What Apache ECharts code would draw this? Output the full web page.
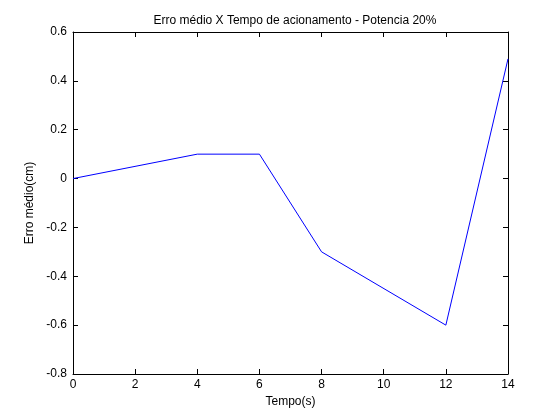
<!DOCTYPE html>
<html><head><meta charset="utf-8">
<script src="https://cdn.jsdelivr.net/npm/echarts@6/dist/echarts.min.js"></script>
<style>html,body{margin:0;padding:0;background:#fff}#c{width:560px;height:420px}</style>
</head><body><div id="c"></div>
<script>
var xValues = [0, 4, 6, 8, 12, 14];
var yValues = [0, 0.1, 0.1, -0.3, -0.6, 0.49];
var titleText = 'Erro médio X Tempo de acionamento - Potencia 20%';
var xLabel = 'Tempo(s)';
var yLabel = 'Erro médio(cm)';

var font = 'Liberation Sans, Arial, sans-serif';
function axisCommon() {
  return {
    axisLine: {show: true, onZero: false, lineStyle: {color: '#000', width: 1}},
    axisTick: {show: true, inside: true, length: 5, lineStyle: {color: '#000'}},
    splitLine: {show: false}
  };
}
var chart = echarts.init(document.getElementById('c'));
chart.setOption({
  animation: false,
  backgroundColor: '#fff',
  title: {text: titleText, left: 290, top: 10, textAlign: 'center',
    textStyle: {fontFamily: font, fontSize: 12, fontWeight: 'normal', color: '#000'}},
  grid: {left: 73, right: 52, top: 32, bottom: 46},
  xAxis: [
    Object.assign({type: 'value', min: 0, max: 14, interval: 2, position: 'bottom',
      name: xLabel, nameLocation: 'middle', nameGap: 22,
      nameTextStyle: {fontFamily: font, fontSize: 12, color: '#000'},
      axisLabel: {fontFamily: font, fontSize: 12, color: '#000', margin: 5}}, axisCommon()),
    Object.assign({type: 'value', min: 0, max: 14, interval: 2, position: 'top',
      axisLabel: {show: false}}, axisCommon())
  ],
  yAxis: [
    Object.assign({type: 'value', min: -0.8, max: 0.6, interval: 0.2, position: 'left',
      name: yLabel, nameLocation: 'middle', nameGap: 32, nameRotate: 90,
      nameTextStyle: {fontFamily: font, fontSize: 12, color: '#000'},
      axisLabel: {fontFamily: font, fontSize: 12, color: '#000', margin: 6,
        formatter: function(v){ return Math.abs(v) < 1e-9 ? '0' : (Math.round(v*10)/10).toString(); }}}, axisCommon()),
    Object.assign({type: 'value', min: -0.8, max: 0.6, interval: 0.2, position: 'right',
      axisLabel: {show: false}}, axisCommon())
  ],
  series: [{
    type: 'line',
    data: xValues.map(function(x, i){ return [x, yValues[i]]; }),
    showSymbol: false,
    lineStyle: {color: '#0000ff', width: 1},
    itemStyle: {color: '#0000ff'}
  }]
});
</script></body></html>
